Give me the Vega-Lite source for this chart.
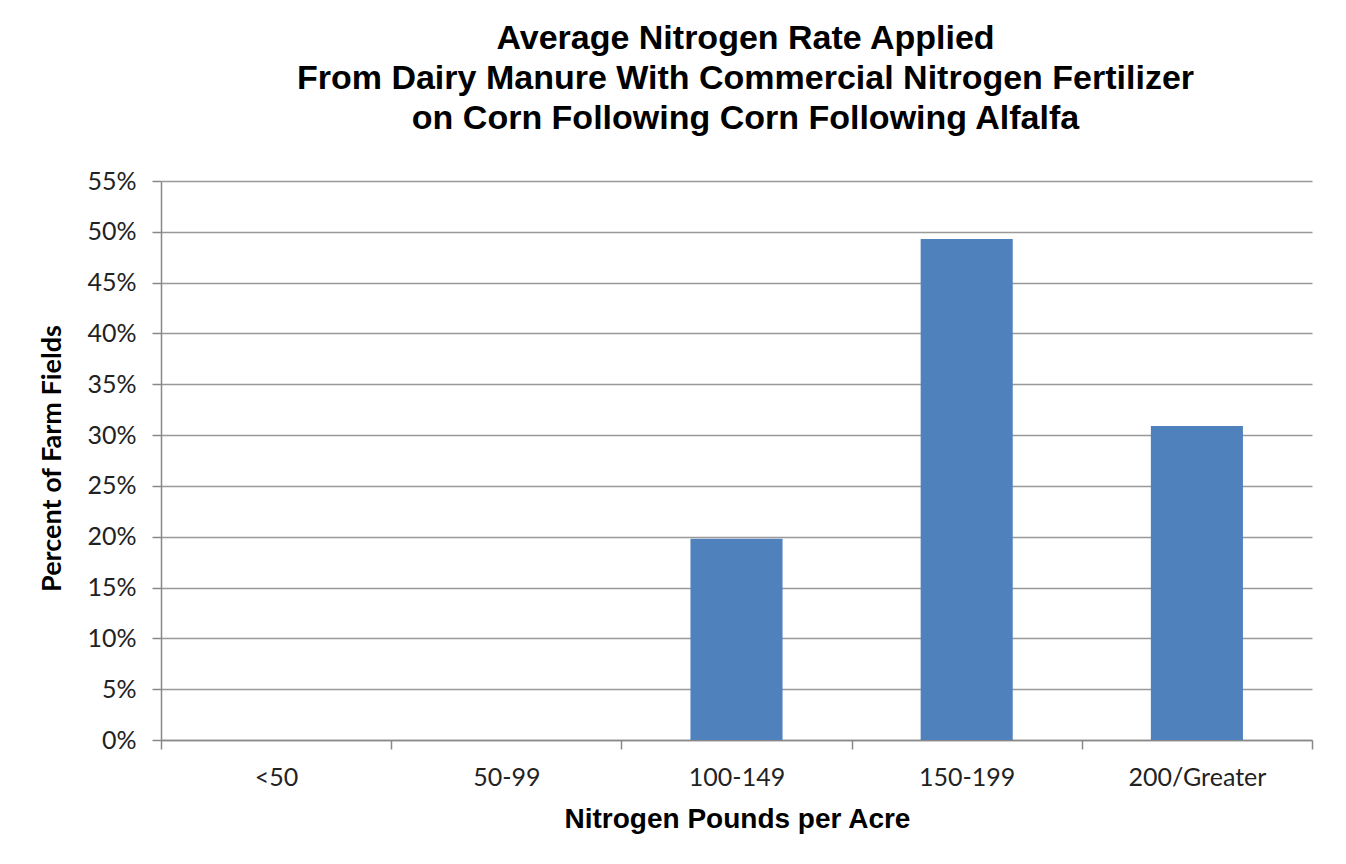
{
  "$schema": "https://vega.github.io/schema/vega-lite/v6.json",
  "autosize": {"type": "none"},
  "width": 1151,
  "height": 559,
  "padding": {"left": 161, "top": 181, "right": 34, "bottom": 124},
  "background": "white",
  "title": {
    "text": ["Average Nitrogen Rate Applied", "From Dairy Manure With Commercial Nitrogen Fertilizer", "on Corn Following Corn Following Alfalfa"],
    "font": "Liberation Sans",
    "fontSize": 34,
    "fontWeight": "bold",
    "color": "black",
    "anchor": "middle",
    "dx": 9,
    "lineHeight": 40,
    "offset": 33
  },
  "data": {
    "values": [
      {"range": "<50", "pct": 0},
      {"range": "50-99", "pct": 0},
      {"range": "100-149", "pct": 0.198},
      {"range": "150-199", "pct": 0.493},
      {"range": "200/Greater", "pct": 0.309}
    ]
  },
  "mark": {"type": "bar", "color": "#4F81BD", "width": {"band": 0.4}},
  "encoding": {
    "x": {
      "field": "range",
      "type": "nominal",
      "sort": null,
      "scale": {"paddingInner": 0, "paddingOuter": 0},
      "axis": {
        "title": "Nitrogen Pounds per Acre",
        "titleFont": "Liberation Sans",
        "titleFontSize": 28,
        "titleFontWeight": "bold",
        "titleColor": "black",
        "titleX": 576,
        "titleY": 79,
        "titleBaseline": "middle",
        "labelFont": "Lato",
        "labelFontSize": 25,
        "labelColor": "#222",
        "labelAngle": 0,
        "labelPadding": 16,
        "tickBand": "extent",
        "tickSize": 9,
        "tickColor": "#888",
        "domainColor": "#888",
        "domainWidth": 1.5,
        "tickWidth": 1.5
      }
    },
    "y": {
      "field": "pct",
      "type": "quantitative",
      "scale": {"domain": [0, 0.55]},
      "axis": {
        "title": "Percent of Farm Fields",
        "titleFont": "Lato",
        "titleFontSize": 27,
        "titleFontWeight": "bold",
        "titleColor": "black",
        "titleX": -109,
        "titleY": 277,
        "titleBaseline": "middle",
        "titleAngle": -90,
        "values": [0, 0.05, 0.1, 0.15, 0.2, 0.25, 0.3, 0.35, 0.4, 0.45, 0.5, 0.55],
        "format": ".0%",
        "labelFont": "Lato",
        "labelFontSize": 25,
        "labelColor": "#222",
        "labelPadding": 16,
        "tickSize": 9,
        "tickColor": "#888",
        "domainColor": "#888",
        "domainWidth": 1.5,
        "tickWidth": 1.5,
        "grid": true,
        "gridColor": "#999",
        "gridWidth": 1.5
      }
    }
  },
  "config": {
    "view": {"stroke": null}
  }
}
